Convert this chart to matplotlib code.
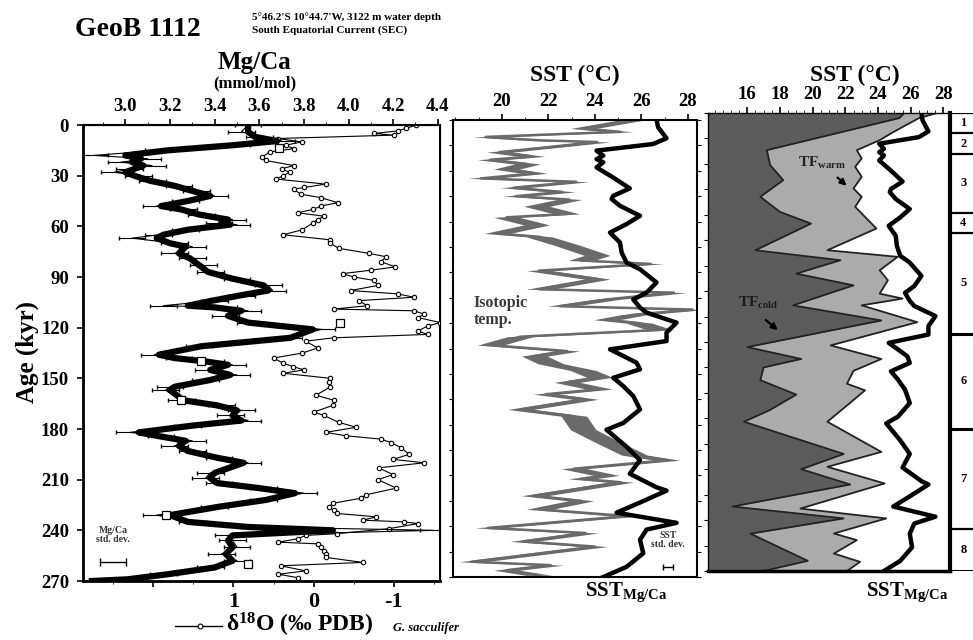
import matplotlib
matplotlib.use("Agg")
import matplotlib.pyplot as plt
from matplotlib.ticker import MultipleLocator
import numpy as np

plt.rcParams['font.family'] = ['Liberation Serif', 'DejaVu Serif']
plt.rcParams['font.weight'] = 'bold'
plt.rcParams['mathtext.fontset'] = 'custom'
plt.rcParams['mathtext.rm'] = 'Liberation Serif:bold'
plt.rcParams['mathtext.it'] = 'Liberation Serif:italic:bold'
plt.rcParams['mathtext.bf'] = 'Liberation Serif:bold'

# ---- Mg/Ca (mmol/mol), thick line and raw points with error bars
mg_age = [0, 4, 7, 9.5, 12, 15, 18, 20, 22, 24, 26, 28, 30, 33, 36, 39, 42, 45, 48, 50,
          53, 56, 58, 59, 62, 65, 67, 70, 72, 76, 79, 83, 87, 91, 95, 98, 101, 104, 107, 108,
          110, 113, 117, 121, 126, 131, 136, 138, 140, 142, 145, 148, 151, 155, 157, 163, 166, 169, 172, 175,
          178, 182, 184, 187, 190, 193, 197, 200, 206, 209, 212, 215, 218, 222, 226, 231, 235, 238, 240, 243,
          246, 250, 254, 258, 262, 266, 269, 270]
mg_thick = [3.55, 3.55, 3.58, 3.68, 3.48, 3.19, 3.00, 3.07, 3.03, 3.08, 3.04, 3.00, 3.04, 3.11, 3.22, 3.30, 3.38, 3.28, 3.16, 3.25,
            3.33, 3.46, 3.43, 3.47, 3.28, 3.17, 3.14, 3.20, 3.27, 3.24, 3.29, 3.33, 3.37, 3.48, 3.62, 3.64, 3.51, 3.39, 3.28, 3.40,
            3.52, 3.46, 3.55, 3.84, 3.74, 3.34, 3.15, 3.22, 3.36, 3.46, 3.38, 3.47, 3.38, 3.22, 3.20, 3.26, 3.41, 3.50, 3.48, 3.52,
            3.30, 3.06, 3.14, 3.27, 3.24, 3.28, 3.41, 3.53, 3.40, 3.38, 3.41, 3.60, 3.76, 3.63, 3.42, 3.20, 3.28, 3.55, 3.93, 3.48,
            3.46, 3.48, 3.45, 3.48, 3.40, 3.19, 3.01, 2.85]
mg_raw = [3.55, 3.52, 3.60, 3.70, 3.50, 3.15, 2.86, 3.10, 2.98, 3.12, 3.02, 2.95, 3.06, 3.12, 3.24, 3.32, 3.40, 3.27, 3.14, 3.26,
          3.34, 3.48, 3.42, 3.50, 3.27, 3.15, 3.03, 3.22, 3.30, 3.22, 3.30, 3.35, 3.38, 3.50, 3.64, 3.66, 3.52, 3.40, 3.17, 3.44,
          3.55, 3.45, 3.56, 3.88, 3.73, 3.33, 3.13, 3.24, 3.38, 3.48, 3.37, 3.50, 3.36, 3.20, 3.18, 3.25, 3.43, 3.52, 3.47, 3.55,
          3.28, 3.02, 3.16, 3.30, 3.22, 3.30, 3.42, 3.55, 3.38, 3.36, 3.42, 3.62, 3.80, 3.62, 3.40, 3.14, 3.30, 3.58, 4.38, 3.46,
          3.48, 3.50, 3.43, 3.50, 3.38, 3.17, 2.98, 2.85]
sq_age = [13.4, 117, 140, 163, 231, 260]
sq_mg = [3.69, 3.96, 3.34, 3.25, 3.18, 3.55]

# ---- d18O G. sacculifer (permil PDB)
d18_age = [0, 2, 3.5, 5, 6, 8, 10, 12, 14, 16, 19, 21, 24, 26, 28, 30, 32, 35, 37, 38,
           41, 43, 46, 48, 50, 52, 54, 56, 58, 62, 65, 68, 70, 73, 76, 78, 81, 84, 86, 88,
           90, 92, 95, 98, 100, 102, 104, 107, 109, 110, 112, 114, 117, 119, 122, 124, 126, 128, 132, 135,
           138, 141, 143, 145, 147, 150, 152, 155, 160, 163, 166, 170, 172, 176, 179, 182, 184, 186, 188, 191,
           195, 198, 200, 203, 207, 210, 215, 219, 221, 224, 226, 228, 230, 232, 234, 235, 236, 239, 242, 243,
           245, 247, 248, 250, 252, 254, 256, 259, 261, 264, 266, 268]
d18 = [-1.28, -1.15, -1.05, -0.75, -1.00, 0.45, 0.15, 0.35, 0.25, 0.55, 0.64, 0.60, 0.25, 0.40, 0.30, 0.38, 0.47, -0.15, 0.12, 0.25,
       0.16, -0.09, -0.30, -0.09, 0.01, 0.20, -0.13, -0.05, 0.01, 0.14, 0.38, -0.21, -0.21, -0.31, -0.69, -0.90, -0.84, -1.02, -0.71, -0.36,
       -0.50, -0.75, -0.80, -0.46, -1.05, -1.25, -0.56, -0.67, -0.25, -1.25, -1.38, -1.30, -1.58, -1.42, -1.30, -1.42, -0.25, 0.10, -0.05, 0.14,
       0.50, 0.38, 0.26, 0.12, 0.38, -0.21, -0.19, -0.21, -0.03, -0.25, -0.24, 0.00, -0.13, -0.31, -0.53, -0.15, -0.40, -0.84, -0.96, -1.09,
       -1.19, -0.99, -1.38, -0.81, -0.99, -0.80, -1.03, -0.65, -0.59, -0.24, -0.19, -0.25, -0.29, -0.78, -0.61, -1.13, -1.30, -0.94, -0.29, 0.10,
       0.20, 0.44, -0.05, -0.09, -0.13, -0.15, -0.15, -0.61, 0.41, 0.10, 0.44, 0.20]

# ---- isotopic temperature (deg C)
iso_age = [0, 5, 7, 8, 10, 12, 13, 19, 21.5, 23.5, 26, 29, 31.5, 34.5, 36.5, 40, 42.5, 45, 47, 51,
           55.5, 57.5, 62, 67, 69, 74, 80, 83, 85, 89, 94, 100, 102, 106, 110, 112, 115, 118, 120, 124,
           128, 133, 136.5, 139.5, 144, 148, 152, 155, 159, 162, 165, 171, 175, 183, 190, 198, 201, 206, 210, 212,
           214, 222, 225, 230, 234, 241, 244, 249, 252, 261, 263, 266, 269]
iso_sst = [25.6, 23.5, 25.1, 23.1, 19.3, 21.6, 24.1, 19.9, 21.3, 19.5, 21.1, 20.2, 21.4, 19.1, 23.2, 20.5, 22.6, 20.6, 22.9, 21.5,
           22.8, 20.2, 21.5, 19.8, 21.6, 22.8, 24.1, 23.4, 26.4, 21.6, 24.1, 21.6, 27.4, 24.5, 22.5, 28.2, 25.7, 24.5, 25.9, 26.8,
           20.8, 19.5, 22.8, 21.4, 22.1, 23.5, 24.2, 22.8, 24.2, 21.9, 23.6, 20.8, 23.1, 23.5, 24.5, 25.7, 27.1, 23.1, 24.5, 23.4,
           25.1, 21.4, 23.4, 21.6, 25.4, 19.4, 23.6, 20.9, 24.0, 18.7, 22.1, 20.2, 21.6]
iso_halfwidth = 0.55

# ---- SST from Mg/Ca (deg C)
sst_age = [0, 4.3, 10.8, 14.2, 18.1, 21.1, 23.1, 25, 28, 34, 40.4, 44.8, 46.7, 50.7, 56.6, 61.5, 66.5, 72.4, 78.3, 84.2,
           88.2, 96, 102, 106, 110.8, 113.8, 119.7, 125.6, 130.6, 135.5, 139.4, 143.4, 147.3, 152.3, 157.2, 163.1, 171, 179, 183, 193,
           201, 209, 217, 219, 226, 232, 238, 242, 248, 256, 264, 270]
sst_mg = [26.65, 26.72, 27.08, 26.5, 24.07, 24.36, 24.07, 24.36, 24.07, 24.79, 25.5, 24.79, 24.72, 25.08, 25.94, 25.36, 24.65, 25.08, 25.15, 25.36,
          25.94, 26.65, 26.22, 25.65, 25.94, 26.22, 27.51, 27.08, 27.08, 24.65, 25.22, 25.79, 25.94, 24.79, 25.22, 25.65, 25.94, 25.22, 24.5, 25.36,
          25.94, 25.5, 26.65, 27.08, 25.94, 24.93, 27.51, 26.22, 25.94, 26.08, 25.36, 24.36]

# ---- transfer function SST, cold and warm season (deg C)
tfc_age = [0, 3, 21.9, 30.7, 39.6, 49.4, 58.3, 65.2, 80.9, 86.8, 94.7, 101.6, 113.4, 122.3, 138, 145, 150, 157.5, 166, 175,
           182, 201, 210, 219, 232, 239, 248, 264, 270]
tf_cold = [25.6, 25.3, 17.2, 17.4, 18.2, 16.8, 18.0, 19.9, 16.5, 21.7, 19.0, 22.5, 18.8, 24.2, 16.0, 19.3, 17.0, 16.8, 19.0, 17.4,
           15.8, 21.9, 19.3, 22.3, 15.1, 21.9, 16.2, 19.7, 17.0]
tfw_age = [0, 3, 11.4, 16, 21.9, 26.8, 31.7, 37.6, 44.5, 49.4, 55.3, 68.1, 80.9, 84.8, 92.7, 98.6, 106.5, 109.4, 113.4, 123.3,
           137, 145, 152, 159.6, 163.5, 172.4, 182, 199.8, 208.6, 218.4, 233.2, 239, 247.9, 251.8, 259.7, 264.6, 270]
tf_warm = [27.6, 26.5, 24.9, 24.1, 22.7, 23.0, 22.6, 23.0, 22.5, 23.0, 22.6, 23.9, 20.9, 25.2, 24.1, 24.6, 24.1, 25.5, 23.0, 26.4,
           21.1, 24.2, 22.5, 22.1, 23.2, 22.1, 20.9, 24.2, 20.9, 24.4, 19.25, 24.5, 21.3, 22.7, 21.3, 22.9, 22.1]

# marine isotope stages
mis_bounds = [0, 12, 24, 59, 71, 130, 186, 245, 270]
mis_labels = ['1', '2', '3', '4', '5', '6', '7', '8']

W, H = 973, 640
fig = plt.figure(figsize=(W / 100, H / 100), dpi=100)


def frac(x0, y0, x1, y1):
    return [x0 / W, 1 - y1 / H, (x1 - x0) / W, (y1 - y0) / H]


tick_kw = dict(labelsize=13.5, width=1.2, length=4)

# ---------------- panel 1 : Mg/Ca and d18O
ax1 = fig.add_axes(frac(83, 125, 440, 581))
ax1.set_ylim(270, 0)
ax1.set_xlim(2.875, -1.575)
ax1.plot(d18, d18_age, color='black', lw=0.8, marker='o', ms=3.2, mfc='white', mec='black', mew=0.8, zorder=3)
ax1.set_xticks([2, 1, 0, -1])
ax1.set_xticklabels(['', '1', '0', '-1'])
ax1.xaxis.set_minor_locator(MultipleLocator(0.5))
ax1.set_yticks(np.arange(0, 271, 30))
ax1.tick_params(axis='both', direction='out', pad=6, **tick_kw)
ax1.tick_params(axis='x', pad=4, labelsize=16)
ax1.tick_params(which='minor', length=2)
for s in ax1.spines.values():
    s.set_linewidth(1.5)
ax1.spines['left'].set_linewidth(2)
ax1.spines['bottom'].set_linewidth(2)

ax1t = ax1.twiny()
ax1t.set_xlim(2.81, 4.41)
ax1t.errorbar(mg_raw, mg_age, xerr=0.06, color='black', lw=0.8, elinewidth=0.8, capsize=1.5, zorder=2)
ax1t.plot(mg_thick, mg_age, color='black', lw=4.5, solid_joinstyle='round', zorder=4)
ax1t.plot(sq_mg, sq_age, ls='none', marker='s', ms=6, mfc='white', mec='black', mew=0.9, zorder=5)
ax1t.errorbar([2.944], [259], xerr=0.06, color='black', lw=1, capsize=3)
ax1t.set_xticks(np.arange(3.0, 4.41, 0.2))
ax1t.set_xticklabels(['3.0', '3.2', '3.4', '3.6', '3.8', '4.0', '4.2', '4.4'])
ax1t.xaxis.set_minor_locator(MultipleLocator(0.1))
ax1t.tick_params(axis='x', direction='out', pad=3, **tick_kw)
ax1t.tick_params(which='minor', length=2)
ax1t.text(2.944, 243, 'Mg/Ca\nstd. dev.', ha='center', va='center', fontsize=7, linespacing=1.0, color='#333333')

# ---------------- panel 2 : isotopic temperature vs SST Mg/Ca
ax2 = fig.add_axes(frac(453, 120, 697, 577))
ax2.set_ylim(270, 0)
ax2.set_xlim(17.9, 28.39)
iso = np.array(iso_sst)
ax2.fill_betweenx(iso_age, iso - iso_halfwidth, iso + iso_halfwidth, color='#6a6a6a', lw=0, zorder=2)
ax2.plot(iso_sst, iso_age, color='#6a6a6a', lw=1.8, zorder=2)
ax2.plot(sst_mg, sst_age, color='black', lw=3.2, solid_joinstyle='round', zorder=3)
ax2.errorbar([27.14], [264], xerr=0.22, color='black', lw=1, capsize=2)
ax2.text(27.14, 248, 'SST\nstd. dev.', ha='center', va='center', fontsize=7, linespacing=1.0, color='#333333')
ax2.text(18.8, 113, 'Isotopic\ntemp.', ha='left', va='center', fontsize=11.5, linespacing=1.1, color='#3a3a3a')
ax2.set_xticks(np.arange(20, 29, 2))
ax2.xaxis.set_minor_locator(MultipleLocator(1))
ax2.xaxis.tick_top()
ax2.yaxis.set_major_locator(MultipleLocator(15))
ax2.tick_params(axis='y', left=True, right=True, labelleft=False, direction='out', length=3)
ax2.tick_params(axis='x', direction='out', pad=3, **tick_kw)
ax2.tick_params(which='minor', length=2)
for s in ax2.spines.values():
    s.set_linewidth(1.5)

# ---------------- panel 3 : transfer function SST vs SST Mg/Ca
ax3 = fig.add_axes(frac(708, 113, 950, 571))
ax3.set_ylim(270, 0)
ax3.set_xlim(13.6, 28.4)
ax3.fill_betweenx(tfw_age, 13.6, tf_warm, color='#ababab', lw=0, zorder=1)
ax3.plot(tf_warm, tfw_age, color='#222222', lw=1.3, zorder=2)
ax3.fill_betweenx(tfc_age, 13.6, tf_cold, color='#5c5c5c', lw=0, zorder=2)
ax3.plot(tf_cold, tfc_age, color='#222222', lw=1.3, zorder=2)
ax3.plot(sst_mg, sst_age, color='black', lw=3.2, solid_joinstyle='round', zorder=3)
ax3.text(20.6, 29.5, r'TF$_{\rm warm}$', ha='center', va='center', fontsize=11, color='#222222', zorder=4)
ax3.annotate('', xy=(22.2, 44), xytext=(21.4, 37),
             arrowprops=dict(arrowstyle='-|>', color='black', lw=1.6, mutation_scale=9), zorder=4)
ax3.text(16.7, 112, r'TF$_{\rm cold}$', ha='center', va='center', fontsize=11, color='#1a1a1a', zorder=4)
ax3.annotate('', xy=(18.0, 129), xytext=(17.0, 121),
             arrowprops=dict(arrowstyle='-|>', color='black', lw=1.6, mutation_scale=9), zorder=4)
ax3.set_xticks(np.arange(16, 29, 2))
ax3.xaxis.set_minor_locator(MultipleLocator(0.5))
ax3.xaxis.tick_top()
ax3.yaxis.set_major_locator(MultipleLocator(15))
ax3.tick_params(axis='y', left=True, right=False, labelleft=False, direction='out', length=3)
ax3.tick_params(axis='x', direction='out', pad=3, **tick_kw)
ax3.tick_params(which='minor', length=2)
for s in ax3.spines.values():
    s.set_linewidth(1.0)
ax3.spines['right'].set_linewidth(3)
ax3.spines['bottom'].set_linewidth(2.5)

# ---------------- isotope stage column
axm = fig.add_axes(frac(950, 113, 1000, 571))
axm.set_ylim(270, 0)
axm.set_xlim(0, 1)
axm.axis('off')
for b in mis_bounds:
    axm.axhline(b, xmin=0, xmax=1, color='black', lw=2.2 if b in (130, 186, 270) else 1.6)
for i, lab in enumerate(mis_labels):
    axm.text(0.27, (mis_bounds[i] + mis_bounds[i + 1]) / 2, lab, ha='center', va='center', fontsize=9)

# ---------------- titles / labels
fig.text(75 / W, 1 - 29 / H, 'GeoB 1112', ha='left', va='center', fontsize=20)
fig.text(252 / W, 1 - 17 / H, "5°46.2'S 10°44.7'W, 3122 m water depth", ha='left', va='center', fontsize=8)
fig.text(252 / W, 1 - 30 / H, 'South Equatorial Current (SEC)', ha='left', va='center', fontsize=8)
fig.text(255 / W, 1 - 62 / H, 'Mg/Ca', ha='center', va='center', fontsize=18)
fig.text(255 / W, 1 - 83 / H, '(mmol/mol)', ha='center', va='center', fontsize=12)
fig.text(575 / W, 1 - 75 / H, 'SST (°C)', ha='center', va='center', fontsize=17)
fig.text(855 / W, 1 - 75 / H, 'SST (°C)', ha='center', va='center', fontsize=17)
fig.text(27 / W, 1 - 352 / H, 'Age (kyr)', ha='center', va='center', rotation=90, fontsize=18)
fig.text(226 / W, 1 - 625 / H, r'δ$^{\rm 18}$O (‰ PDB)', ha='left', va='center', fontsize=17)
fig.text(393 / W, 1 - 628 / H, 'G. sacculifer', ha='left', va='center', fontsize=9, style='italic')
fig.lines.append(plt.Line2D([175 / W, 222 / W], [1 - 626 / H, 1 - 626 / H], transform=fig.transFigure,
                            color='black', lw=1))
fig.lines.append(plt.Line2D([200 / W], [1 - 626 / H], transform=fig.transFigure,
                            color='black', marker='o', ms=3.5, mfc='white', mew=0.8))
fig.text(626 / W, 1 - 592 / H, r'SST$_{\rm Mg/Ca}$', ha='center', va='center', fontsize=15)
fig.text(907 / W, 1 - 592 / H, r'SST$_{\rm Mg/Ca}$', ha='center', va='center', fontsize=15)

fig.savefig('out.png', dpi=100)
